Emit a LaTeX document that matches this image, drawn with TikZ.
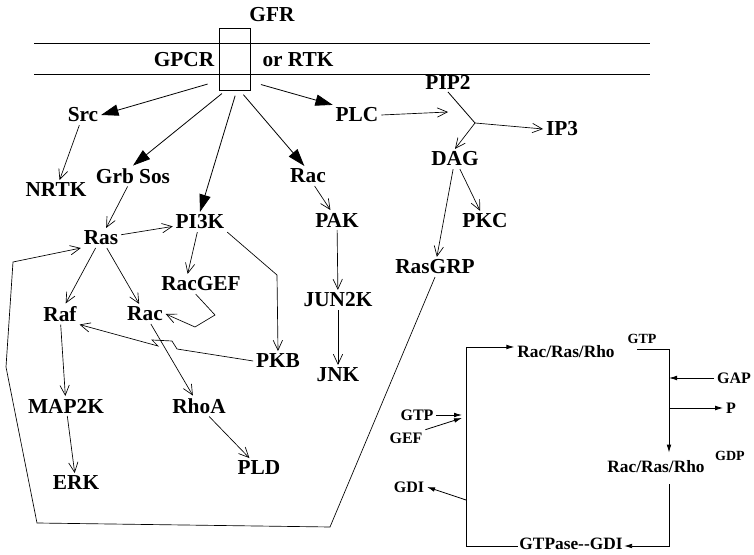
\documentclass[tikz,border=0pt]{standalone}
\usepackage{fontspec}
\setmainfont{Liberation Serif}
\usetikzlibrary{arrows.meta}

\begin{document}
\begin{tikzpicture}[
  x=0.75pt, y=-0.75pt,
  every node/.style={font=\fontsize{16}{18}\selectfont\bfseries, inner sep=2pt},
  small/.style={font=\fontsize{12}{14}\selectfont\bfseries},
  medium/.style={font=\fontsize{13}{15}\selectfont\bfseries},
  supl/.style={font=\fontsize{10.5}{12}\selectfont\bfseries},
  heavyarrow/.style={-{Triangle[length=13pt,width=8.5pt]}, line width=0.6pt},
  openarrow/.style={-{Straight Barb[length=7.5pt,width=7pt]}, line width=0.5pt},
  cyclearrow/.style={-{Latex[length=6pt,width=3.5pt]}, line width=0.6pt},
  plain/.style={line width=0.6pt}
]
\useasboundingbox (0,0) rectangle (754,555);

% membrane and receptor
\draw[plain] (34,43) -- (650,43);
\draw[plain] (34,74) -- (650,74);
\node[draw, line width=0.6pt, minimum width=23.25pt, minimum height=46.5pt, inner sep=0] (rcpt) at (234.5,59) {};
\node[circle, minimum size=54.75pt, inner sep=0] (hub) at (234.5,59) {};
\node (gfr) at (272,15) {GFR};
\node (gpcr) at (184,60) {GPCR};
\node (ortk) at (298,60) {or RTK};

% signalling nodes
\node (src) at (83,115) {Src};
\node (nrtk) at (56,190) {NRTK};
\node (grbsos) at (133,176) {Grb Sos};
\node (racA) at (308,176) {Rac};
\node (plc) at (357,115) {PLC};
\node (pip2) at (448,82) {PIP2};
\node (ip3) at (562,129) {IP3};
\node (dag) at (455,159) {DAG};
\node (pkc) at (485,221) {PKC};
\node (pak) at (337,220) {PAK};
\node (ras) at (101,238) {Ras};
\node (pik) at (200,222) {PI3K};
\node (racgef) at (201,284) {RacGEF};
\node (raf) at (60,314) {Raf};
\node (racB) at (145,314) {Rac};
\node (pkb) at (278,361) {PKB};
\node (jun2k) at (338,300) {JUN2K};
\node (jnk) at (338,375) {JNK};
\node (map2k) at (66,406) {MAP2K};
\node (rhoa) at (199,406) {RhoA};
\node (erk) at (76,483) {ERK};
\node (pld) at (259,468) {PLD};
\node (rasgrp) at (435,267) {RasGRP};

% GTPase cycle
\node[medium] (rrrA) at (566,352) {Rac/Ras/Rho};
\node[supl] (gtpA) at (642,339) {GTP};
\node[small] (gap) at (734,378) {GAP};
\node[small] (pout) at (731,408) {P};
\node[medium] (rrrB) at (656,467) {Rac/Ras/Rho};
\node[supl] (gdp) at (730,456) {GDP};
\node[medium, inner sep=1pt] (gtpase) at (571,544) {GTPase{-}{-}GDI};
\node[small] (gtpB) at (417,415) {GTP};
\node[small] (gef) at (406,438) {GEF};
\node[small] (gdi) at (409,487) {GDI};

\coordinate (jn) at (475,123);
\coordinate (jplc) at (448,112);
\coordinate (hop1) at (177,349);
\coordinate (hop2) at (172,341);
\coordinate (hop3) at (152,340);
\coordinate (hop4) at (158,346);
\coordinate (bend1) at (215,315);
\coordinate (bend2) at (195,327);
\coordinate (bend3) at (277,275);
\coordinate (loop1) at (330,527);
\coordinate (loop2) at (37,523);
\coordinate (loop3) at (6,367);
\coordinate (loop4) at (13,262);
\coordinate (cTL) at (466,347);
\coordinate (cBL) at (466,546);
\coordinate (cTR0) at (637,349);
\coordinate (cTR) at (669,349);
\coordinate (cBR) at (669,546);
\coordinate (cGEF) at (462,418);
\coordinate (cGDI) at (466,500);

% from the receptor
\draw[heavyarrow] (hub.223) -- (src.east);
\draw[heavyarrow] (hub.250) -- (grbsos.north);
\draw[heavyarrow] (hub.271) -- (pik.north);
\draw[heavyarrow] (hub.284) -- (racA.110);
\draw[heavyarrow] (hub.316) -- (plc.north west);

\draw[openarrow] (src) -- (nrtk);
\draw[openarrow] (grbsos) -- (ras);
\draw[openarrow] (racA) -- (pak);
\draw[openarrow] (plc.east) -- (jplc);
\draw[plain] (pip2.south) -- (jn);
\draw[openarrow] (jn) -- (ip3.west);
\draw[openarrow] (jn) -- (dag.north);
\draw[openarrow] (dag) -- (pkc);
\draw[openarrow] (dag) -- (rasgrp);
\draw[openarrow] (pak) -- (jun2k);
\draw[openarrow] (jun2k) -- (jnk);
\draw[openarrow] (ras) -- (pik);
\draw[openarrow] (ras) -- (raf);
\draw[openarrow] (ras) -- (racB);
\draw[openarrow] ([xshift=-2pt]pik.south) -- ([xshift=-10pt]racgef.north);
\draw[openarrow] (pik.south east) -- (bend3) -- (pkb.north);
\draw[openarrow] ([xshift=-4pt]racgef.south) -- (bend1) -- (bend2) -- (racB.east);
\draw[openarrow] (pkb.west) -- (hop1) -- (hop2) -- (hop3) -- (hop4) -- (raf.south east);
\draw[openarrow] (racB) -- (rhoa);
\draw[openarrow] (rhoa) -- (pld);
\draw[openarrow] (raf) -- (map2k);
\draw[openarrow] (map2k) -- (erk);
\draw[openarrow] (rasgrp.south) -- (loop1) -- (loop2) -- (loop3) -- (loop4) -- (ras.south west);

% cycle
\draw[cyclearrow] (gtpase.west |- cBL) -- (cBL) -- (cTL) -- (rrrA.west |- cTL);
\draw[cyclearrow] (cTR0) -- (cTR) -- ([yshift=4pt]rrrB.north -| cTR);
\draw[cyclearrow] (gap.west) -- (gap.west -| cTR);
\draw[cyclearrow] (pout.west -| cTR) -- (pout.west);
\draw[cyclearrow] ([yshift=-6pt]rrrB.south -| cTR) -- (cBR) -- (gtpase.east |- cBR);
\draw[cyclearrow] (gtpB.east) -- ([xshift=-3pt]gtpB.east -| cTL);
\draw[cyclearrow] (gef.north east) -- (cGEF);
\draw[cyclearrow] (cGDI) -- (gdi.east);
\end{tikzpicture}
\end{document}
